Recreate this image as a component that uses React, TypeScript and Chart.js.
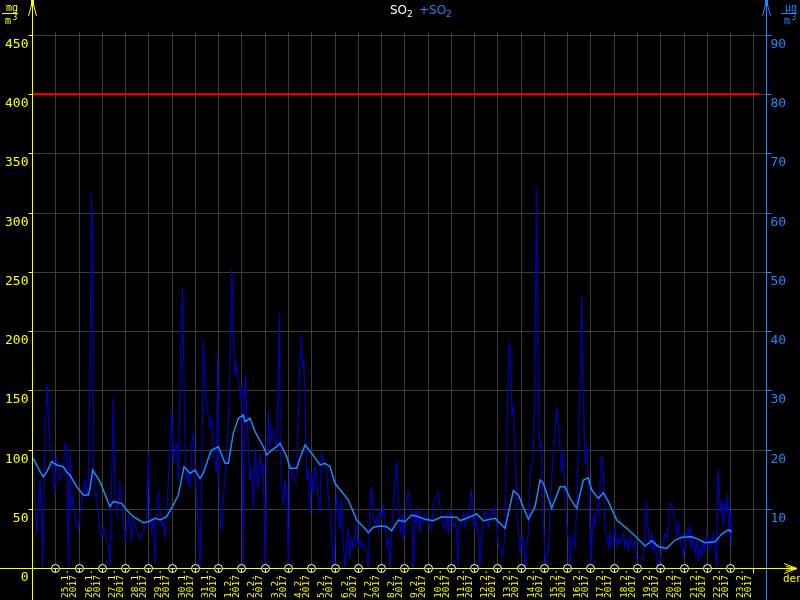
import { useEffect, useRef } from 'react';
import { Chart, registerables } from 'chart.js';

Chart.register(...registerables);

// ---- data -------------------------------------------------------------
// hours counted from 24.1.2017 00:00
const dayLabels = [
  '25.1.', '26.1.', '27.1.', '28.1.', '29.1.', '30.1.', '31.1.',
  '1.2.', '2.2.', '3.2.', '4.2.', '5.2.', '6.2.', '7.2.', '8.2.', '9.2.',
  '10.2.', '11.2.', '12.2.', '13.2.', '14.2.', '15.2.', '16.2.', '17.2.',
  '18.2.', '19.2.', '20.2.', '21.2.', '22.2.', '23.2.',
];
const yearLabel = '2017';
const leftTicks = [0, 50, 100, 150, 200, 250, 300, 350, 400, 450];
const rightTicks = [10, 20, 30, 40, 50, 60, 70, 80, 90];
const limitValue = 400;
const limitHours = [0, 750];

// hourly SO2 [hour, value]
const hourlySO2: [number, number][] = [
  [1.4,111],[3.1,60],[4.8,29],[6.5,55],[8.3,74],[10.0,40],[11.0,0],[13.4,114],[15.1,140],[15.8,156],
  [16.8,130],[18.6,102],[20.3,102],[22.0,74],[23.7,66],[25.4,94],[28.9,74],[32.3,83],[34.0,105],[35.8,102],
  [37.5,0],[39.2,97],[40.9,49],[42.6,60],[44.4,41],[46.1,35],[47.8,32],[49.5,46],[52.9,66],[54.7,74],
  [56.4,60],[58.1,74],[59.8,167],[61.5,316],[62.6,282],[63.3,83],[65.0,60],[66.7,63],[68.4,46],[70.1,29],
  [71.9,26],[73.6,35],[75.3,32],[77.0,24],[78.7,18],[80.4,1],[82.2,74],[83.9,145],[85.6,63],[87.3,46],
  [89.0,57],[90.8,71],[92.5,60],[94.2,35],[95.9,24],[97.6,35],[99.4,43],[101.1,35],[102.8,24],[104.5,41],
  [108.0,32],[111.4,24],[114.8,32],[118.3,38],[120.0,97],[121.7,46],[123.4,32],[125.1,41],[126.9,4],[128.6,57],
  [130.3,63],[132.0,49],[133.7,35],[135.5,38],[137.2,24],[138.9,46],[140.6,74],[142.3,105],[144.1,133],[145.8,88],
  [147.5,102],[149.2,105],[150.9,74],[152.6,156],[154.4,215],[155.4,237],[156.8,159],[157.8,102],[159.5,74],[161.2,80],
  [163.0,66],[164.7,105],[166.4,114],[168.1,88],[169.8,60],[171.6,32],[173.3,0],[175.0,74],[176.7,192],[178.4,159],
  [180.1,133],[181.8,130],[183.6,119],[185.3,125],[187.0,94],[188.7,88],[190.4,80],[191.5,181],[192.8,74],[194.9,32],
  [196.3,33],[197.3,57],[199.0,74],[200.7,94],[202.5,125],[204.2,170],[205.9,252],[206.9,235],[208.0,192],[209.3,164],
  [211.1,170],[212.8,159],[214.5,145],[216.2,153],[218.0,0],[219.0,147],[220.3,164],[221.7,130],[223.1,102],[224.8,74],
  [226.5,86],[228.3,49],[230.0,102],[231.7,80],[233.4,66],[235.1,97],[236.8,80],[238.6,88],[240.3,0],[242.0,74],
  [243.7,133],[245.4,102],[247.2,119],[248.9,114],[250.6,105],[252.3,102],[254.0,159],[255.1,215],[256.1,102],[257.5,69],
  [259.2,52],[260.9,74],[262.6,63],[264.4,1],[266.1,88],[267.8,83],[269.5,74],[271.2,74],[272.9,80],[274.7,130],
  [276.4,181],[277.4,198],[278.8,170],[280.2,175],[281.5,145],[283.3,74],[285.0,83],[286.7,46],[288.4,80],[290.1,63],
  [291.9,86],[293.6,74],[295.3,57],[297.0,46],[298.7,97],[300.4,94],[302.2,86],[303.9,83],[305.6,60],[307.3,46],
  [309.0,29],[310.8,0],[312.5,24],[314.2,63],[315.9,46],[317.6,32],[319.4,60],[321.1,18],[322.8,0],[324.5,21],
  [326.2,35],[328.0,7],[329.7,24],[331.4,18],[333.1,29],[334.8,38],[336.5,18],[338.3,24],[340.0,18],[341.7,21],
  [343.4,18],[345.1,12],[346.9,0],[348.6,55],[350.3,69],[352.0,41],[353.7,38],[355.5,43],[357.2,32],[358.9,49],
  [360.6,43],[362.3,52],[364.1,38],[365.8,18],[367.5,24],[369.2,0],[370.9,29],[372.7,57],[374.4,71],[376.1,91],
  [377.1,74],[378.8,38],[380.2,29],[381.6,46],[383.0,24],[384.7,35],[386.4,57],[388.1,64],[389.8,57],[391.6,46],
  [393.3,0],[395.0,49],[396.7,38],[398.4,52],[400.2,29],[401.9,41],[403.6,38],[405.3,46],[407.0,43],[408.8,38],
  [410.5,35],[412.2,32],[413.9,55],[415.6,57],[417.3,60],[419.1,64],[420.8,52],[422.5,43],[424.2,35],[425.9,32],
  [427.7,46],[429.4,29],[431.1,46],[432.8,49],[434.5,35],[436.3,38],[438.0,32],[439.0,0],[440.7,35],[443.1,38],
  [444.9,46],[446.6,35],[448.3,46],[450.0,43],[451.7,55],[452.8,66],[454.5,52],[455.9,32],[456.9,46],[458.6,35],
  [460.3,29],[462.0,0],[463.8,29],[465.5,38],[467.2,49],[468.9,43],[470.6,35],[472.4,43],[474.1,49],[475.8,46],
  [477.5,52],[479.2,38],[480.9,21],[482.7,15],[484.4,10],[486.1,12],[487.8,32],[489.5,102],[490.9,159],[492.3,191],
  [493.7,181],[495.0,130],[496.4,136],[497.8,102],[499.2,74],[500.5,46],[501.9,29],[503.3,12],[505.0,24],[506.7,26],
  [508.5,0],[510.2,21],[511.9,29],[513.6,80],[515.3,86],[517.1,94],[518.4,145],[519.5,243],[520.1,323],[521.2,246],
  [522.5,130],[523.9,102],[525.3,105],[526.7,46],[528.0,29],[529.4,0],[530.8,10],[532.5,15],[534.2,46],[535.9,74],
  [537.7,99],[539.4,114],[541.1,136],[542.8,119],[544.6,102],[546.3,80],[548.0,99],[549.7,57],[551.4,38],[553.2,24],
  [554.9,0],[556.6,26],[558.3,24],[560.0,18],[561.7,52],[563.5,102],[564.5,136],[565.9,181],[566.9,230],[567.9,159],
  [569.0,136],[570.3,88],[572.1,105],[573.8,74],[575.5,29],[576.5,0],[577.9,32],[579.3,46],[580.7,35],[582.4,52],
  [584.1,46],[585.8,74],[586.8,94],[588.2,94],[589.6,74],[591.0,32],[592.7,26],[594.4,18],[596.1,29],[597.9,18],
  [599.6,24],[601.3,35],[603.0,18],[604.7,26],[606.4,21],[608.2,24],[609.9,29],[611.6,18],[613.3,24],[615.0,15],
  [616.8,26],[618.5,21],[620.2,18],[621.9,24],[623.6,7],[625.4,7],[627.1,7],[628.8,7],[630.5,7],[632.2,32],
  [633.3,57],[634.6,43],[635.7,32],[637.4,18],[639.1,29],[640.8,12],[642.5,24],[644.3,10],[646.0,0],[647.7,7],
  [649.4,12],[651.1,24],[652.9,29],[654.6,24],[656.3,38],[658.0,52],[659.7,55],[661.4,46],[663.2,41],[664.9,29],
  [666.6,38],[668.3,26],[670.0,18],[671.8,10],[673.5,24],[675.2,32],[676.9,24],[678.6,35],[680.4,18],[682.1,26],
  [683.8,12],[685.5,24],[687.2,7],[689.0,18],[690.7,10],[692.4,21],[694.1,15],[695.8,29],[697.5,18],[699.3,24],
  [701.0,18],[702.7,29],[704.4,18],[706.1,0],[707.2,83],[708.5,74],[709.9,46],[711.3,57],[713.0,35],[714.7,57],
  [716.5,46],[717.5,63],[718.9,29],[720.2,46],[721.6,18],
];

// moving average SO2 [hour, value]
const averageSO2: [number, number][] = [
  [1.3,92.6],[8.3,81.3],[11.7,77],[15.2,81],[20.3,89.8],[25.5,87],[32.3,85.5],[35.8,81],[39.2,78.5],[46.1,68.6],
  [52.9,61.6],[58.1,61.6],[59.8,67.3],[62.6,82.7],[70.1,72.9],[80.4,51.8],[83.9,56],[92.5,54.6],[97.7,49],[104.5,43.3],
  [114.8,38.2],[120,39.1],[126.9,42],[132,40.5],[138.9,43.3],[145.7,53.2],[150.9,61.6],[156.8,85.5],[163,80],[168.1,82.7],
  [173.3,75.7],[176.7,80],[183.6,96.8],[185.3,99.6],[192.2,102.4],[199.1,88.4],[202.5,88.4],[207.6,113.7],[212.8,126.4],[217.9,129.2],
  [219.7,123.5],[224.8,126.4],[230,115.1],[238.6,102.4],[242.1,95.4],[247.2,99.6],[252.4,102.4],[255.8,105.3],[262.7,94],[266.1,84.2],
  [273,84.2],[276.4,92.6],[281.6,103.8],[288.5,96.8],[297,87],[302.2,88.4],[307.4,85.5],[312.5,71.5],[319.4,64.4],[326.2,57.4],
  [334.9,40.5],[341.7,34.9],[346.9,29.8],[352,34.4],[358.9,35.5],[365.8,34.9],[371,31.5],[377.8,40.5],[384.7,39.1],[391.6,44.7],
  [398.4,43.3],[405.3,41.1],[413.9,39.9],[422.6,43.3],[431.1,42.8],[438,42.8],[441.4,39.9],[448.3,42],[458.7,45.6],[465.5,39.9],
  [477.5,42],[487.9,33.5],[491.3,46.2],[496.4,65.3],[501.6,61.6],[511.9,41.1],[518.8,51.8],[524,74.3],[527.4,71.5],[536,50.4],
  [544.6,68.6],[549.7,68.6],[554.9,58.8],[561.8,50.4],[568.6,74.3],[573.8,76.2],[577.3,65.9],[584.1,58.8],[589.3,63.6],[594.4,56],
  [603.1,40.5],[613.4,33.5],[622,27],[632.3,18.6],[639.2,23],[646,18],[654.6,16.6],[663.2,23.6],[670.1,25.9],[680.4,26.4],
  [687.2,24.2],[694.1,21.4],[704.4,22.2],[711.3,28.7],[718.2,32.1],[721.7,30.6],
];

// ---- styles -----------------------------------------------------------
const YELLOW = '#ffff00';
const BLUE = '#1e88ff';
const DARK = '#0000b4';
const GRID = '#3c3c3c';

const decor = {
  id: 'decor',
  beforeDatasetsDraw(chart: any) {
    const { ctx, chartArea: a, scales } = chart;
    const x = scales.x;
    const y = scales.y;
    ctx.save();
    ctx.strokeStyle = GRID;
    ctx.lineWidth = 1;
    leftTicks.forEach((v) => {
      if (v === 0) return;
      const py = Math.round(y.getPixelForValue(v)) + 0.5;
      ctx.beginPath();
      ctx.moveTo(a.left, py);
      ctx.lineTo(a.right, py);
      ctx.stroke();
    });
    for (let k = 0; k <= dayLabels.length; k++) {
      const px = Math.round(x.getPixelForValue(24 * (k + 1))) + 0.5;
      ctx.beginPath();
      ctx.moveTo(px, a.top - 3);
      ctx.lineTo(px, a.bottom);
      ctx.stroke();
    }
    ctx.restore();
  },
  afterDatasetsDraw(chart: any) {
    const { ctx, chartArea: a, scales } = chart;
    const x = scales.x;
    const y = scales.y;
    const y2 = scales.y2;
    const H = chart.height;
    ctx.save();
    ctx.lineWidth = 1;

    // left axis
    const lx = Math.round(a.left) + 0.5;
    ctx.strokeStyle = YELLOW;
    ctx.beginPath();
    ctx.moveTo(lx, 0);
    ctx.lineTo(lx, H);
    ctx.stroke();
    ctx.beginPath();
    ctx.moveTo(lx, 1);
    ctx.lineTo(lx - 4, 16);
    ctx.moveTo(lx, 1);
    ctx.lineTo(lx + 4, 16);
    ctx.stroke();
    ctx.fillStyle = YELLOW;
    ctx.fillRect(lx - 1.5, 0, 3, 6);
    ctx.font = '13px "DejaVu Sans Mono"';
    ctx.textAlign = 'right';
    ctx.textBaseline = 'top';
    leftTicks.forEach((v) => {
      const py = Math.round(y.getPixelForValue(v)) + 0.5;
      ctx.beginPath();
      ctx.moveTo(lx - 4, py);
      ctx.lineTo(lx, py);
      ctx.stroke();
      ctx.fillText(String(v), lx - 4, py + 3);
    });

    // right axis
    const rx = Math.round(a.right) + 0.5;
    ctx.strokeStyle = BLUE;
    ctx.fillStyle = BLUE;
    ctx.beginPath();
    ctx.moveTo(rx, 0);
    ctx.lineTo(rx, H);
    ctx.stroke();
    ctx.beginPath();
    ctx.moveTo(rx, 1);
    ctx.lineTo(rx - 4, 16);
    ctx.moveTo(rx, 1);
    ctx.lineTo(rx + 4, 16);
    ctx.stroke();
    ctx.fillRect(rx - 1.5, 0, 3, 6);
    ctx.textAlign = 'left';
    rightTicks.forEach((v) => {
      const py = Math.round(y2.getPixelForValue(v)) + 0.5;
      ctx.beginPath();
      ctx.moveTo(rx, py);
      ctx.lineTo(rx + 5, py);
      ctx.stroke();
      ctx.fillText(String(v), rx + 4, py + 3);
    });

    // x axis
    const by = Math.round(a.bottom) + 0.5;
    ctx.strokeStyle = YELLOW;
    ctx.beginPath();
    ctx.moveTo(0, by);
    ctx.lineTo(797, by);
    ctx.stroke();
    ctx.beginPath();
    ctx.moveTo(784, by - 5);
    ctx.lineTo(797, by);
    ctx.lineTo(784, by + 5);
    ctx.moveTo(786, by - 2);
    ctx.lineTo(797, by);
    ctx.lineTo(786, by + 2);
    ctx.stroke();
    ctx.fillStyle = YELLOW;
    ctx.font = '11px "DejaVu Sans Mono"';
    ctx.textAlign = 'left';
    ctx.textBaseline = 'top';
    ctx.fillText('den', 783, 574);

    // end tick (no circle)
    const endX = Math.round(x.getPixelForValue(24 * (dayLabels.length + 1))) + 0.5;
    ctx.beginPath();
    ctx.moveTo(endX, by);
    ctx.lineTo(endX, by + 5);
    ctx.stroke();

    // day markers and labels
    dayLabels.forEach((lab, k) => {
      const px = Math.round(x.getPixelForValue(24 * (k + 1))) + 0.5;
      ctx.fillStyle = '#000';
      ctx.strokeStyle = '#ffffff';
      ctx.beginPath();
      ctx.arc(px, by, 4, 0, Math.PI * 2);
      ctx.fill();
      ctx.stroke();
      ctx.strokeStyle = YELLOW;
      ctx.beginPath();
      ctx.moveTo(px - 3, by);
      ctx.lineTo(px + 3, by);
      ctx.moveTo(px, by);
      ctx.lineTo(px, by + 4);
      ctx.stroke();

      ctx.fillStyle = YELLOW;
      ctx.font = '9.5px "DejaVu Sans Mono"';
      ctx.textAlign = 'left';
      ctx.textBaseline = 'middle';
      [lab, yearLabel].forEach((t, j) => {
        ctx.save();
        ctx.translate(px + 10 + j * 8, 598);
        ctx.rotate(-Math.PI / 2);
        ctx.fillText(t, 0, 0);
        ctx.restore();
      });
    });

    // title
    ctx.textAlign = 'left';
    ctx.textBaseline = 'alphabetic';
    ctx.fillStyle = '#ffffff';
    ctx.font = '12px "DejaVu Sans"';
    ctx.fillText('SO', 390, 14);
    let w = ctx.measureText('SO').width;
    ctx.font = '9px "DejaVu Sans"';
    ctx.fillText('2', 390 + w, 17);
    ctx.fillStyle = BLUE;
    ctx.font = '12px "DejaVu Sans"';
    ctx.fillText('+SO', 419, 14);
    w = ctx.measureText('+SO').width;
    ctx.font = '9px "DejaVu Sans"';
    ctx.fillText('2', 419 + w, 17);

    // units
    const unit = (cx: number, top: string, color: string) => {
      ctx.fillStyle = color;
      ctx.strokeStyle = color;
      ctx.textAlign = 'center';
      ctx.font = '10px "DejaVu Sans Mono"';
      ctx.fillText(top, cx + 2, 11);
      ctx.beginPath();
      ctx.moveTo(cx - 8, 13.5);
      ctx.lineTo(cx + 8, 13.5);
      ctx.stroke();
      ctx.fillText('m', cx - 2, 24);
      ctx.font = '8px "DejaVu Sans Mono"';
      ctx.fillText('3', cx + 5, 20);
    };
    unit(10, 'mg', YELLOW);
    unit(789, 'µg', BLUE);

    ctx.restore();
  },
};

export default function App() {
  const ref = useRef<HTMLCanvasElement | null>(null);

  useEffect(() => {
    if (!ref.current) return;
    const chart = new Chart(ref.current, {
      type: 'line',
      data: {
        datasets: [
          {
            label: 'SO2',
            data: hourlySO2.map(([h, v]) => ({ x: h, y: v })),
            borderColor: DARK,
            borderWidth: 1.2,
            pointRadius: 0,
            tension: 0,
            yAxisID: 'y',
            order: 3,
          },
          {
            label: '+SO2',
            data: averageSO2.map(([h, v]) => ({ x: h, y: v })),
            borderColor: BLUE,
            borderWidth: 1.5,
            pointRadius: 0,
            tension: 0,
            yAxisID: 'y',
            order: 2,
          },
          {
            label: 'limit',
            data: limitHours.map((h) => ({ x: h, y: limitValue })),
            borderColor: '#ff0000',
            borderWidth: 2,
            pointRadius: 0,
            yAxisID: 'y',
            order: 1,
          },
        ],
      },
      options: {
        responsive: false,
        animation: false,
        devicePixelRatio: 1,
        layout: { padding: { left: 32, right: 34, top: 35, bottom: 32 } },
        plugins: { legend: { display: false }, tooltip: { enabled: false } },
        scales: {
          x: { type: 'linear', min: 0, max: 757, display: false },
          y: { min: 0, max: 450, display: false },
          y2: { position: 'right', min: 0, max: 90, display: false },
        },
      },
      plugins: [decor],
    });
    return () => chart.destroy();
  }, []);

  return (
    <div style={{ position: 'fixed', left: 0, top: 0, width: 800, height: 600, background: '#000' }}>
      <canvas ref={ref} width={800} height={600} style={{ display: 'block' }} />
    </div>
  );
}
